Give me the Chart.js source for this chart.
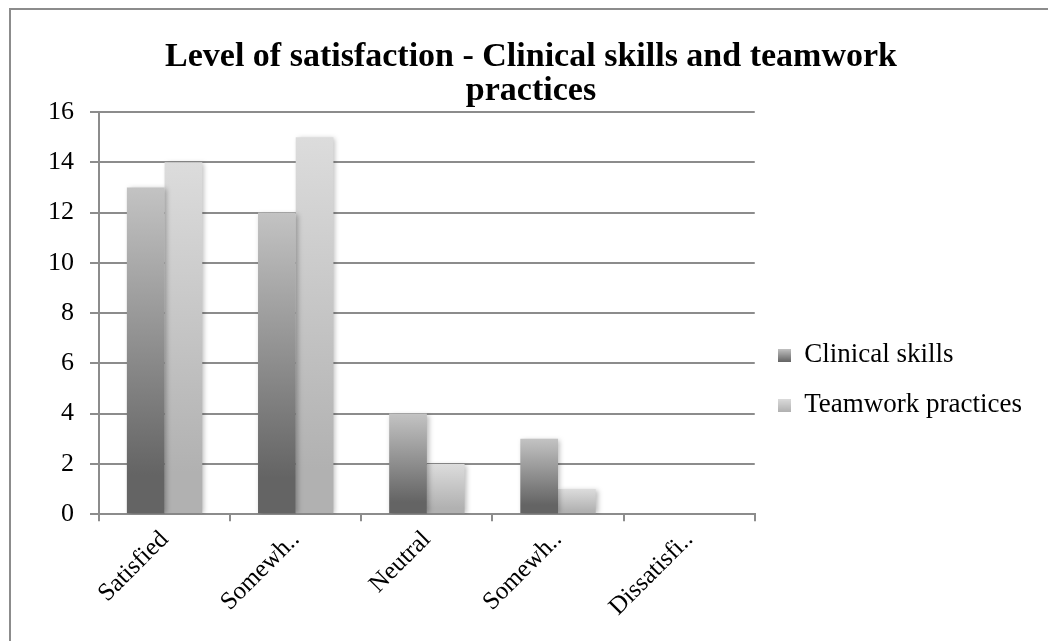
<!DOCTYPE html>
<html>
<head>
<meta charset="utf-8">
<script src="https://cdn.jsdelivr.net/npm/chart.js@4.4.1/dist/chart.umd.min.js"></script>
<style>
  html, body { margin: 0; padding: 0; background: #fff; overflow: hidden; }
  #wrap { position: relative; width: 1048px; height: 641px; }
  #frame { position: absolute; left: 9px; top: 8px; width: 1100px; height: 700px; border: 2px solid #8c8c8c; box-sizing: border-box; }
  #chart { position: absolute; left: 0; top: 0; }
</style>
</head>
<body>
<div id="wrap">
  <div id="frame"></div>
  <canvas id="chart" width="1048" height="641"></canvas>
</div>
<script>
const categories = ['Satisfied', 'Somewh..', 'Neutral', 'Somewh..', 'Dissatisfi..'];
const clinicalSkills = [13, 12, 4, 3, 0];
const teamworkPractices = [14, 15, 2, 1, 0];
const yTicks = [0, 2, 4, 6, 8, 10, 12, 14, 16];

const serif = "'Liberation Serif', 'DejaVu Serif', serif";
const shades = [['#646464', '#c3c3c3', '#8e8e8e'], ['#b1b1b1', '#dcdcdc', '#c6c6c6']];

// vertical gradient per bar, dark at the base, light at the top
function barGradient(ctx, bottom, top, flat) {
  const chart = ctx.chart;
  if (!chart.chartArea || !ctx.parsed) return flat;
  const y = chart.scales.y;
  const yTop = y.getPixelForValue(ctx.parsed.y);
  const yBase = y.getPixelForValue(0);
  if (Math.abs(yBase - yTop) < 1) return flat;
  const g = chart.ctx.createLinearGradient(0, yBase, 0, yTop);
  g.addColorStop(0, bottom);
  g.addColorStop(0.12, bottom);
  g.addColorStop(1, top);
  return g;
}

// small gradient squares for the legend
function swatch(bottom, top) {
  const cv = document.createElement('canvas');
  cv.width = 13; cv.height = 13;
  const c = cv.getContext('2d');
  const g = c.createLinearGradient(0, 13, 0, 0);
  g.addColorStop(0, bottom); g.addColorStop(1, top);
  c.fillStyle = g; c.fillRect(0, 0, 13, 13);
  return cv;
}
const swatches = shades.map(s => swatch(s[0], s[1]));

const barShadow = {
  id: 'barShadow',
  beforeDatasetsDraw(chart) {
    const c = chart.ctx;
    c.save();
    c.shadowColor = 'rgba(0,0,0,0.28)';
    c.shadowBlur = 5;
    c.shadowOffsetX = 2;
    c.shadowOffsetY = 1;
  },
  afterDatasetsDraw(chart) { chart.ctx.restore(); }
};

new Chart(document.getElementById('chart'), {
  type: 'bar',
  data: {
    labels: categories,
    datasets: [
      { label: 'Clinical skills', data: clinicalSkills,
        backgroundColor: c => barGradient(c, ...shades[0]) },
      { label: 'Teamwork practices', data: teamworkPractices,
        backgroundColor: c => barGradient(c, ...shades[1]) }
    ]
  },
  plugins: [barShadow],
  options: {
    responsive: false,
    animation: false,
    layout: { padding: { left: 30, right: 16, top: 40, bottom: 15 } },
    datasets: { bar: { categoryPercentage: 0.575, barPercentage: 1, borderWidth: 0 } },
    plugins: {
      title: {
        display: true,
        text: ['Level of satisfaction - Clinical skills and teamwork', 'practices'],
        color: '#000',
        font: { family: serif, size: 34, weight: 'bold', lineHeight: 1.0 },
        padding: { top: 0, bottom: 4 }
      },
      legend: {
        position: 'right',
        align: 'center',
        maxWidth: 320,
        title: { display: true, text: '', font: { size: 12 }, padding: { top: 80, bottom: 0 } },
        labels: {
          color: '#000',
          font: { family: serif, size: 27 },
          boxWidth: 13, boxHeight: 13,
          padding: 23,
          usePointStyle: true,
          generateLabels: chart => {
            const items = Chart.defaults.plugins.legend.labels.generateLabels(chart);
            items.forEach((it, i) => { it.pointStyle = swatches[i]; });
            return items;
          }
        }
      },
      tooltip: { enabled: false }
    },
    scales: {
      x: {
        offset: true,
        grid: { display: true, drawOnChartArea: false, offset: true, color: '#8c8c8c', lineWidth: 2, tickLength: 7 },
        border: { color: '#8c8c8c', width: 2 },
        ticks: { color: '#000', font: { family: serif, size: 25 }, minRotation: 45, maxRotation: 45, autoSkip: false, padding: 4 }
      },
      y: {
        min: 0, max: 16,
        afterBuildTicks: axis => { axis.ticks = yTicks.map(v => ({ value: v })); },
        afterFit: axis => { axis.width = 69; },
        grid: { color: '#8c8c8c', lineWidth: 2, tickLength: 9 },
        border: { color: '#8c8c8c', width: 2 },
        ticks: { color: '#000', font: { family: serif, size: 26 }, padding: 16 }
      }
    }
  }
});
</script>
</body>
</html>
